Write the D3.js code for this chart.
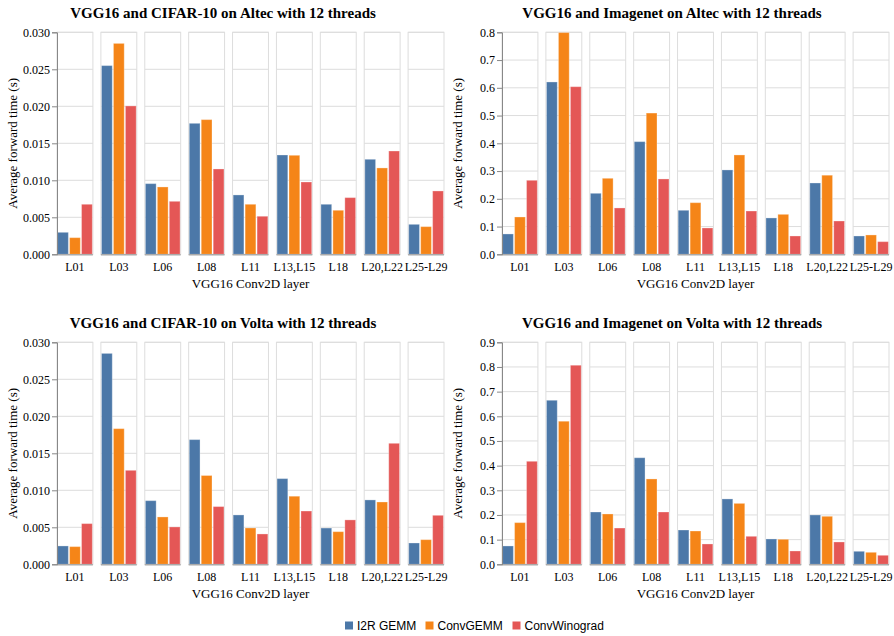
<!DOCTYPE html>
<html>
<head>
<meta charset="utf-8">
<script src="https://cdn.jsdelivr.net/npm/d3@7"></script>
<style>
  body { margin: 0; background: #fff; }
  svg { display: block; }
</style>
</head>
<body>
<svg id="chart" width="894" height="636"></svg>
<script>
const layers = ["L01", "L03", "L06", "L08", "L11", "L13,L15", "L18", "L20,L22", "L25-L29"];
const methods = ["I2R GEMM", "ConvGEMM", "ConvWinograd"];
const colors = ["#4c78a8", "#f58518", "#e45756"];

// values per layer: [I2R GEMM, ConvGEMM, ConvWinograd]
const cifarAltec = [
  [0.00297, 0.00225, 0.00676],
  [0.0255, 0.0285, 0.02005],
  [0.00955, 0.0091, 0.00716],
  [0.0177, 0.0182, 0.01153],
  [0.00802, 0.00676, 0.00514],
  [0.01342, 0.01338, 0.00977],
  [0.00676, 0.00595, 0.00766],
  [0.01284, 0.01167, 0.01396],
  [0.00405, 0.00374, 0.00856]
];
const imagenetAltec = [
  [0.0733, 0.1345, 0.2667],
  [0.621, 0.799, 0.604],
  [0.2198, 0.2739, 0.167],
  [0.406, 0.509, 0.2715],
  [0.1586, 0.186, 0.0949],
  [0.304, 0.358, 0.156],
  [0.131, 0.144, 0.066],
  [0.257, 0.285, 0.120],
  [0.066, 0.0697, 0.0456]
];
const cifarVolta = [
  [0.00248, 0.00239, 0.0055],
  [0.0285, 0.01833, 0.0127],
  [0.0086, 0.0064, 0.00505],
  [0.01685, 0.012, 0.0078],
  [0.00667, 0.00491, 0.0041],
  [0.01158, 0.0092, 0.0072],
  [0.0049, 0.00441, 0.006],
  [0.0087, 0.00842, 0.01635],
  [0.00288, 0.00333, 0.00662]
];
const imagenetVolta = [
  [0.0743, 0.169, 0.4176],
  [0.665, 0.58, 0.807],
  [0.212, 0.204, 0.147],
  [0.432, 0.346, 0.212],
  [0.139, 0.135, 0.0824],
  [0.265, 0.247, 0.1135],
  [0.1027, 0.1014, 0.054],
  [0.2, 0.1946, 0.0905],
  [0.0527, 0.0486, 0.0365]
];

const titles = [
  "VGG16 and CIFAR-10 on Altec with 12 threads",
  "VGG16 and Imagenet on Altec with 12 threads",
  "VGG16 and CIFAR-10 on Volta with 12 threads",
  "VGG16 and Imagenet on Volta with 12 threads"
];
const yMax = [0.030, 0.8, 0.030, 0.9];
const yTickStep = [0.005, 0.1, 0.005, 0.1];
const yFormat = [".3f", ".1f", ".3f", ".1f"];
const datasets = [cifarAltec, imagenetAltec, cifarVolta, imagenetVolta];

const xTitle = "VGG16 Conv2D layer";
const yTitle = "Average forward time (s)";

const svg = d3.select("#chart");
const serif = "'Liberation Serif', 'Times New Roman', serif";
const sans = "'Liberation Sans', Arial, sans-serif";

const panelX = [57, 502, 57, 502];
const panelY = [32.3, 32.3, 342.3, 342.3];
const plotW = 387, plotH = 222;
const titleCX = [223, 672, 223, 672];

datasets.forEach((data, pi) => {
  const g = svg.append("g").attr("transform", `translate(${panelX[pi]},${panelY[pi]})`);

  const fx = d3.scaleBand().domain(layers).range([0, plotW]).paddingInner(0.182).paddingOuter(0);
  const xb = d3.scaleBand().domain(methods).range([0, fx.bandwidth()]).paddingInner(0.1).paddingOuter(0.05);
  const y = d3.scaleLinear().domain([0, yMax[pi]]).range([plotH, 0]);
  const ticks = d3.range(0, yMax[pi] + yTickStep[pi] / 2, yTickStep[pi]);

  layers.forEach((layer, li) => {
    const fg = g.append("g").attr("transform", `translate(${fx(layer)},0)`);
    // grid
    fg.selectAll("line.grid").data(ticks).join("line")
      .attr("x1", 0).attr("x2", fx.bandwidth())
      .attr("y1", d => y(d)).attr("y2", d => y(d))
      .attr("stroke", "#ddd").attr("stroke-width", 1);
    // frame
    fg.append("rect").attr("x", 0).attr("y", 0)
      .attr("width", fx.bandwidth()).attr("height", plotH)
      .attr("fill", "none").attr("stroke", "#ddd");
    // bars
    fg.selectAll("rect.bar").data(methods.map((m, mi) => ({ m, mi, v: data[li][mi] }))).join("rect")
      .attr("class", "bar")
      .attr("x", d => xb(d.m)).attr("width", xb.bandwidth())
      .attr("y", d => y(d.v)).attr("height", d => plotH - y(d.v))
      .attr("fill", d => colors[d.mi])
      .attr("stroke", "#fff").attr("stroke-opacity", 0.3).attr("stroke-width", 1);
    // bottom domain
    fg.append("line").attr("x1", 0).attr("x2", fx.bandwidth())
      .attr("y1", plotH + 0.5).attr("y2", plotH + 0.5)
      .attr("stroke", "#aaa").attr("stroke-width", 1.5);
    // facet label
    fg.append("text").attr("x", fx.bandwidth() / 2).attr("y", plotH + 17)
      .attr("text-anchor", "middle").attr("font-family", serif).attr("font-size", 12)
      .attr("fill", "#000").text(layer);
  });

  // y axis
  const ya = g.append("g").call(d3.axisLeft(y).tickValues(ticks).tickFormat(d3.format(yFormat[pi])).tickSize(5).tickPadding(2));
  ya.select(".domain").attr("stroke", "#888");
  ya.selectAll(".tick line").attr("stroke", "#888");
  ya.selectAll(".tick text").attr("font-family", serif).attr("font-size", 12).attr("fill", "#000");

  // y title
  g.append("text").attr("transform", `translate(${-45},${plotH / 2}) rotate(-90)`)
    .attr("text-anchor", "middle").attr("dy", "0.35em")
    .attr("font-family", serif).attr("font-size", 13).attr("fill", "#000").text(yTitle);

  // x title
  g.append("text").attr("x", plotW / 2).attr("y", plotH + 34)
    .attr("text-anchor", "middle").attr("font-family", serif).attr("font-size", 13)
    .attr("fill", "#000").text(xTitle);

  // panel title
  svg.append("text").attr("x", titleCX[pi]).attr("y", panelY[pi] - 14.5)
    .attr("text-anchor", "middle").attr("font-family", serif).attr("font-size", 15)
    .attr("font-weight", "bold").attr("fill", "#000").text(titles[pi]);
});

// legend
const legendX = [345, 425.5, 512.5];
const lg = svg.append("g");
methods.forEach((m, i) => {
  lg.append("rect").attr("x", legendX[i]).attr("y", 621.5).attr("width", 8).attr("height", 8)
    .attr("fill", colors[i]);
  lg.append("text").attr("x", legendX[i] + 12).attr("y", 630)
    .attr("font-family", sans).attr("font-size", 12).attr("fill", "#000").text(m);
});
</script>
</body>
</html>
